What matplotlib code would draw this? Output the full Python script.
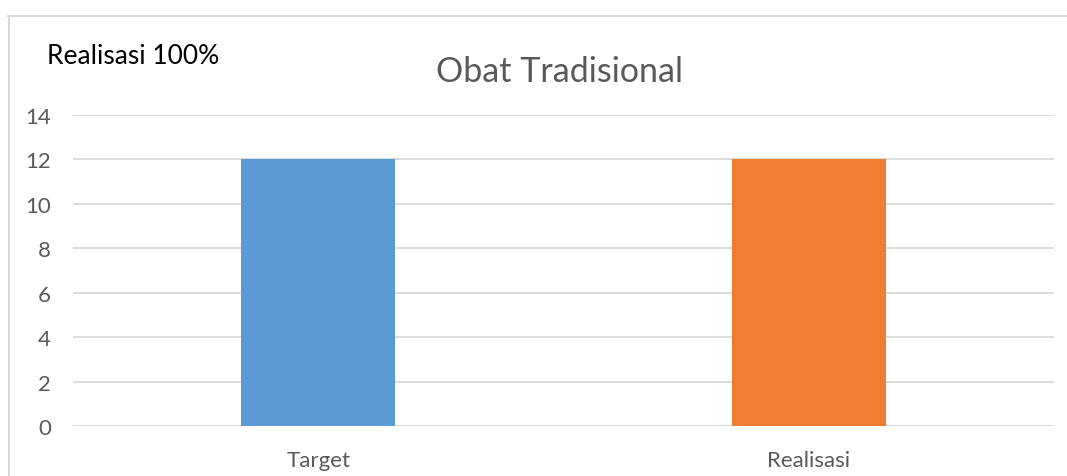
import matplotlib
matplotlib.use("Agg")
import matplotlib.pyplot as plt
from matplotlib.lines import Line2D

categories = ["Target", "Realisasi"]
values = [12, 12]
colors = ["#5B9BD5", "#ED7D31"]
yticks = [0, 2, 4, 6, 8, 10, 12, 14]
title = "Obat Tradisional"
note = "Realisasi 100%"

plt.rcParams['font.family'] = ['Lato', 'DejaVu Sans']

W, H = 1067, 477
fig = plt.figure(figsize=(W/100, H/100), dpi=100)
ax = fig.add_axes([73/W, 1-427/H, (1054-73)/W, (427-116)/H])

x = list(range(len(categories)))
ax.bar(x, values, width=0.314, color=colors, zorder=3)
ax.set_xlim(-0.5, len(categories)-0.5)
ax.set_ylim(0, 14)
ax.set_yticks(yticks)
ax.set_yticklabels([str(t) for t in yticks])
ax.set_xticks(x)
ax.set_xticklabels(categories)
ax.grid(axis='y', color='#D9D9D9', linewidth=1.3, zorder=0)
for s in ax.spines.values():
    s.set_visible(False)
ax.tick_params(axis='both', length=0, colors='#595959', labelsize=16)
ax.tick_params(axis='y', pad=16)
ax.tick_params(axis='x', pad=17)

fig.text(559/W, 1-72/H, title, ha='center', va='center', fontsize=24.5, color='#595959')
fig.text(47/W, 1-57/H, note, ha='left', va='center', fontsize=19, color='black')

fig.add_artist(Line2D([8/W, 1], [1-17/H, 1-17/H], transform=fig.transFigure, color='#D9D9D9', linewidth=1.5))
fig.add_artist(Line2D([9/W, 9/W], [1-17/H, 0], transform=fig.transFigure, color='#D9D9D9', linewidth=1.5))

fig.savefig("out.png", dpi=100)
